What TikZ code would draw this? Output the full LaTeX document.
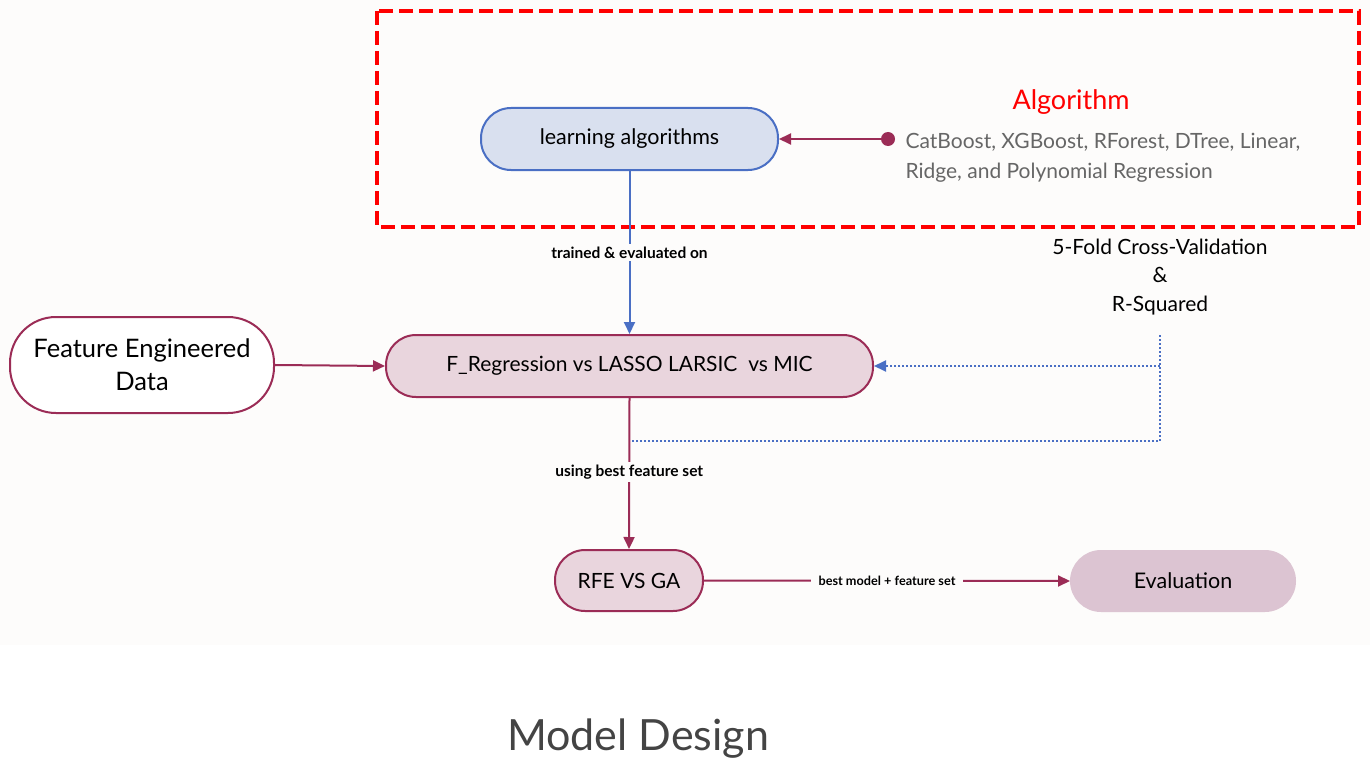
\documentclass[tikz,border=0pt]{standalone}
\usepackage{fontspec}
\setmainfont{Lato}
\usetikzlibrary{arrows.meta}
\definecolor{bgc}{HTML}{FDFCFB}
\definecolor{maroon}{HTML}{9B2C56}
\definecolor{bluel}{HTML}{4A6FC4}
\definecolor{bluefill}{HTML}{D9E0EF}
\definecolor{pinkfill}{HTML}{E9D5DD}
\definecolor{evalfill}{HTML}{DCC4D2}
\definecolor{graytxt}{HTML}{666666}
\definecolor{titlec}{HTML}{444444}
\tikzset{
  pill/.style={rounded corners=30pt, line width=2pt, align=center, inner sep=0pt, text=black},
  arr/.style={line width=2pt, -{Triangle[length=12pt,width=11pt]}},
  lbl/.style={font=\fontsize{15.5}{18}\selectfont\bfseries, fill=bgc, inner sep=3pt, text=black},
}
\begin{document}
\begin{tikzpicture}[x=1pt,y=-1pt]
\useasboundingbox (0,0) rectangle (1370,765);
\fill[bgc] (0,0) rectangle (1370,645);
% red dashed box
\draw[red, line width=4pt, dash pattern=on 14pt off 6pt] (377,11) rectangle (1359,227);
% nodes
\node[pill, draw=bluel, fill=bluefill, minimum width=297pt, minimum height=62pt, font=\fontsize{21.5}{24}\selectfont] (la) at (629.5,139) {\raisebox{-2pt}{learning algorithms}};
\node[pill, draw=maroon, fill=white, minimum width=264pt, minimum height=96pt, rounded corners=46pt, font=\fontsize{25.5}{33}\selectfont] (fed) at (142,365) {\raisebox{-1pt}{Feature Engineered}\\\raisebox{-1pt}{Data}};
\node[pill, draw=maroon, fill=pinkfill, minimum width=487pt, minimum height=62pt, font=\fontsize{21}{24}\selectfont] (fr) at (629.5,366) {\raisebox{-2pt}{F\_Regression vs LASSO LARSIC\ \ vs MIC}};
\node[pill, draw=maroon, fill=pinkfill, minimum width=148pt, minimum height=61pt, font=\fontsize{21}{24}\selectfont] (rfe) at (629,580.5) {\raisebox{-1pt}{RFE VS GA}};
\node[pill, draw=evalfill, fill=evalfill, minimum width=224pt, minimum height=60pt, font=\fontsize{21.5}{24}\selectfont] (ev) at (1183,581) {\raisebox{-1pt}{Evaluation}};
% algorithm text
\node[text=red, font=\fontsize{27}{30}\selectfont] (alg) at (1071,102) {Algorithm};
\node[text=graytxt, anchor=west, align=left, font=\fontsize{21}{30}\selectfont] (algs) at (902,158) {CatBoost, XGBoost, RForest, DTree, Linear,\\Ridge, and Polynomial Regression};
\fill[maroon] (888,139) circle (7pt);
\coordinate (dot) at (888,139);
\draw[arr, maroon] (dot) -- (la.east);
% cross validation text
\node[align=center, font=\fontsize{21}{28.5}\selectfont] (cv) at (1160,277) {5-Fold Cross-Validation\\\&\\R-Squared};
% connectors
\draw[arr, bluel] (la.south) -- node[lbl] {trained \& evaluated on} (fr.north);
\draw[arr, maroon] (fed.east) -- (fr.west);
\draw[arr, maroon] (fr.south) -- node[lbl, pos=0.49] {using best feature set} (rfe.north);
\draw[arr, maroon] (rfe.east) -- node[lbl, font=\fontsize{12.7}{15}\selectfont\bfseries, inner xsep=8pt] {best model + feature set} (ev.west);
\coordinate (vt) at (1160,335);
\coordinate (vm) at (1160,366);
\coordinate (vb) at (1160,441);
\coordinate (vl) at (631,441);
\draw[bluel, line width=2pt, dotted] (vt) -- (vb) -- (vl);
\draw[bluel, line width=2pt, dotted, -{Triangle[length=12pt,width=11pt]}] (vm) -- (fr.east);
% title
\node[text=titlec, font=\fontsize{43}{48}\selectfont] (title) at (638,739) {Model Design};
\end{tikzpicture}
\end{document}
